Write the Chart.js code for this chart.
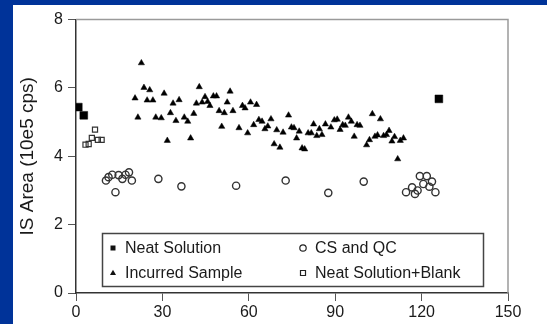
<!DOCTYPE html>
<html lang="en">
<head>
<meta charset="UTF-8">
<title>IS Area</title>
<script src="https://cdn.jsdelivr.net/npm/chart.js"></script>
<style>
  body { margin: 0; background: #003399; }
  #frame { position: absolute; left: 13px; top: 5px; width: 534px; height: 319px; background: #fff; }
</style>
</head>
<body>
<div id="frame"><canvas id="myChart" width="534" height="319"></canvas></div>
<script>
// values (x = injection number, y = IS area in 10e5 cps)
const neatX = [0.8, 2.7, 126];
const neatY = [5.44, 5.20, 5.68];

const blankX = [3.3, 4.4, 5.5, 6.6, 7.6, 8.9];
const blankY = [4.34, 4.36, 4.54, 4.78, 4.48, 4.48];

const csX = [10.4, 11.3, 12.6, 13.7, 14.8, 16.1, 17.2, 18.4, 19.4, 28.6, 36.6, 55.6, 72.8, 87.6, 99.9,
             114.6, 116.7, 117.7, 118.6, 119.4, 120.6, 121.8, 122.7, 123.6, 124.8];
const csY = [3.29, 3.39, 3.46, 2.95, 3.45, 3.34, 3.46, 3.53, 3.29, 3.34, 3.12, 3.14, 3.29, 2.93, 3.26,
             2.95, 3.09, 2.90, 3.00, 3.42, 3.19, 3.42, 3.11, 3.26, 2.95];

const incX = [20.5, 21.5, 22.7, 23.6, 24.7, 25.6, 26.7, 27.7, 29.6, 30.6, 31.7, 32.8, 33.7, 34.7, 35.8,
              37.6, 38.8, 39.8, 40.9, 41.8, 42.8, 43.8, 44.8, 45.7, 46.5, 47.7, 48.8, 49.7, 50.6, 51.5,
              52.5, 53.5, 54.5, 56.6, 57.8, 58.7, 59.6, 60.6, 61.7, 62.7, 63.5, 64.6, 65.6, 66.6, 67.7,
              68.8, 69.7, 70.8, 71.9, 73.8, 74.8, 75.7, 76.6, 77.5, 78.5, 79.4, 80.6, 81.7, 82.5, 83.6,
              84.5, 85.4, 86.6, 88.5, 89.7, 90.7, 91.7, 92.6, 93.5, 94.6, 95.6, 96.6, 97.6, 98.6, 100.9,
              101.9, 102.9, 103.8, 104.7, 105.7, 106.8, 107.8, 108.7, 109.7, 110.6, 111.7, 112.6, 113.7];
const incY = [5.70, 5.14, 6.73, 6.01, 5.64, 5.94, 5.64, 5.14, 5.12, 5.84, 4.46, 5.27, 5.55, 5.04, 5.65,
              5.14, 5.02, 4.53, 5.25, 5.55, 6.03, 5.58, 5.74, 5.60, 5.48, 5.76, 5.76, 5.33, 4.87, 5.27,
              5.58, 5.90, 5.33, 4.83, 5.48, 5.41, 4.68, 5.58, 4.92, 5.51, 5.07, 5.02, 4.80, 4.88, 5.09,
              4.36, 4.77, 4.26, 4.70, 5.20, 4.85, 4.83, 4.53, 4.73, 4.24, 4.21, 4.68, 4.68, 4.94, 4.60,
              4.80, 4.63, 4.94, 4.85, 5.06, 5.08, 4.78, 4.92, 4.90, 5.14, 5.02, 4.58, 4.92, 4.90, 4.33,
              4.48, 5.24, 4.58, 4.62, 5.09, 4.60, 4.63, 4.75, 4.44, 4.57, 3.92, 4.46, 4.53];

const xTicks = [0, 30, 60, 90, 120, 150];
const yTicks = [0, 2, 4, 6, 8];

function pts(xs, ys) {
    return xs.map((x, i) => ({ x: x, y: ys[i] }));
}

// gray top/right frame of the plot
const framePlugin = {
    id: 'frame',
    afterDraw(chart) {
        const a = chart.chartArea, ctx = chart.ctx;
        ctx.save();
        ctx.strokeStyle = '#9a9a9a';
        ctx.lineWidth = 1.5;
        ctx.beginPath();
        ctx.moveTo(a.left, a.top);
        ctx.lineTo(a.right, a.top);
        ctx.lineTo(a.right, a.bottom);
        ctx.stroke();
        ctx.restore();
    }
};

function marker(ctx, style, x, y, filled) {
    ctx.beginPath();
    if (style === 'rect') {
        ctx.rect(x - 2.5, y - 2.5, 5, 5);
    } else if (style === 'circle') {
        ctx.arc(x, y, 3.2, 0, Math.PI * 2);
    } else {
        ctx.moveTo(x, y - 3.3);
        ctx.lineTo(x + 3, y + 2);
        ctx.lineTo(x - 3, y + 2);
        ctx.closePath();
    }
    if (filled) ctx.fill(); else ctx.stroke();
}

// boxed two-column legend inside the plot
const legendPlugin = {
    id: 'boxLegend',
    afterDraw(chart) {
        const ctx = chart.ctx;
        ctx.save();
        ctx.fillStyle = '#fff';
        ctx.fillRect(89.5, 228.5, 381, 53);
        ctx.strokeStyle = '#444';
        ctx.lineWidth = 1.5;
        ctx.strokeRect(89.5, 228.5, 381, 53);
        const ds = chart.data.datasets;
        const items = [
            { d: ds[2], style: 'rect', filled: true, x: 100, y: 243 },
            { d: ds[1], style: 'circle', filled: false, x: 290, y: 243 },
            { d: ds[0], style: 'triangle', filled: true, x: 100, y: 268 },
            { d: ds[3], style: 'rect', filled: false, x: 290, y: 268 }
        ];
        ctx.font = '16px "Liberation Sans", Arial, sans-serif';
        ctx.textBaseline = 'middle';
        items.forEach(it => {
            ctx.fillStyle = '#111';
            ctx.strokeStyle = '#222';
            ctx.lineWidth = 1.2;
            marker(ctx, it.style, it.x, it.y, it.filled);
            ctx.fillStyle = '#1a1a1a';
            ctx.fillText(it.d.label, it.x + 12, it.y + 1);
        });
        ctx.restore();
    }
};

const ctx = document.getElementById('myChart').getContext('2d');
new Chart(ctx, {
    type: 'scatter',
    data: {
        datasets: [
            {
                label: 'Incurred Sample',
                data: pts(incX, incY),
                pointStyle: 'triangle',
                pointRadius: 3.6,
                backgroundColor: '#000',
                borderColor: '#000',
                borderWidth: 0.5
            },
            {
                label: 'CS and QC',
                data: pts(csX, csY),
                pointStyle: 'circle',
                pointRadius: 3.6,
                backgroundColor: 'rgba(0,0,0,0)',
                borderColor: '#333',
                borderWidth: 1.4
            },
            {
                label: 'Neat Solution',
                data: pts(neatX, neatY),
                pointStyle: 'rect',
                pointRadius: 5.5,
                backgroundColor: '#000',
                borderColor: '#000',
                borderWidth: 0.5
            },
            {
                label: 'Neat Solution+Blank',
                data: pts(blankX, blankY),
                pointStyle: 'rect',
                pointRadius: 3.6,
                backgroundColor: 'rgba(0,0,0,0)',
                borderColor: '#333',
                borderWidth: 1.2
            }
        ]
    },
    options: {
        responsive: false,
        animation: false,
        layout: { padding: { top: 14, right: 39, left: 0, bottom: 0 } },
        plugins: {
            legend: { display: false },
            tooltip: { enabled: false }
        },
        scales: {
            x: {
                type: 'linear',
                min: 0,
                max: 150,
                afterBuildTicks: s => { s.ticks = xTicks.map(v => ({ value: v })); },
                afterFit: s => { s.height = 31; },
                ticks: {
                    color: '#1a1a1a',
                    padding: 2,
                    maxRotation: 0,
                    font: { family: '"Liberation Sans", Arial, sans-serif', size: 16 }
                },
                grid: { display: true, drawOnChartArea: false, drawTicks: true, tickLength: 8, color: '#555', lineWidth: 1 },
                border: { display: true, color: '#333', width: 1.5 }
            },
            y: {
                min: 0,
                max: 8,
                afterBuildTicks: s => { s.ticks = yTicks.map(v => ({ value: v })); },
                afterFit: s => { s.width = 63; },
                ticks: {
                    color: '#1a1a1a',
                    padding: 5,
                    font: { family: '"Liberation Sans", Arial, sans-serif', size: 16 }
                },
                title: {
                    display: true,
                    text: 'IS Area (10e5 cps)',
                    color: '#1a1a1a',
                    padding: { top: 3, bottom: 0 },
                    font: { family: '"Liberation Sans", Arial, sans-serif', size: 19 }
                },
                grid: { display: true, drawOnChartArea: false, drawTicks: true, tickLength: 8, color: '#555', lineWidth: 1 },
                border: { display: true, color: '#333', width: 1.5 }
            }
        }
    },
    plugins: [framePlugin, legendPlugin]
});
</script>
</body>
</html>
